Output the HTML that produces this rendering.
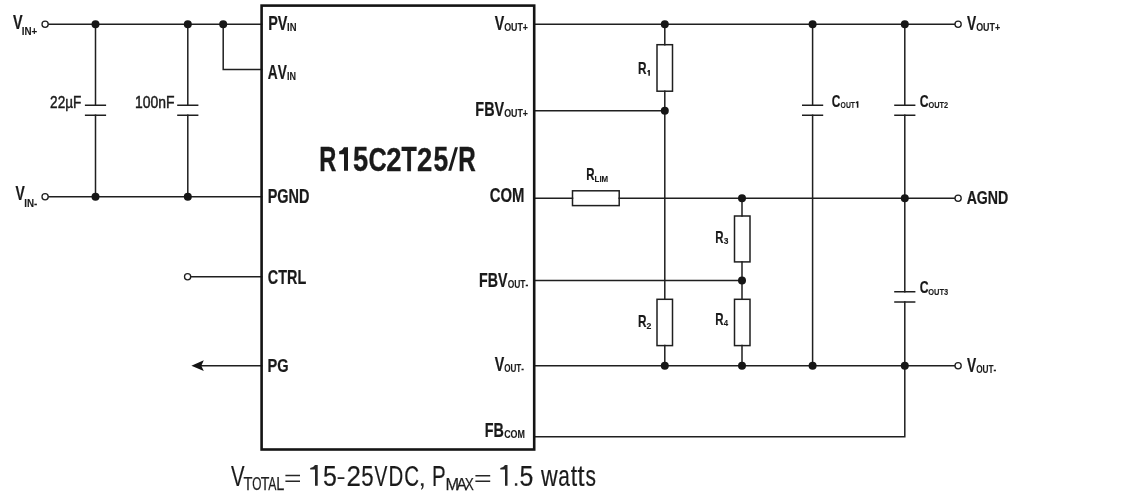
<!DOCTYPE html>
<html><head><meta charset="utf-8"><style>
html,body{margin:0;padding:0;background:#fff;}
svg{display:block;will-change:transform;}
text{font-family:"Liberation Sans",sans-serif;font-kerning:none;fill:#1a1a1a;}
</style></head><body>
<svg width="1144" height="496" viewBox="0 0 1144 496">
<rect width="1144" height="496" fill="#fff"/>
<path d="M648.36 70.0H649.9V75.7H648.36V71.82H647.1V71.14Q647.73 70.86 648.36 70.0Z M856.86 101.2H858.4V107.7H856.86V103.28H855.6V102.50Q856.23 102.17 856.86 101.2Z" fill="#1a1a1a"/>
<path d="M48.5 24.2L261.6 24.2 M48.5 196.8L261.6 196.8 M95.5 24.2L95.5 105.3 M95.5 115.3L95.5 196.8 M187.8 24.2L187.8 105.3 M187.8 115.3L187.8 196.8 M223.2 24.2L223.2 69.6 M223.2 69.6L261.6 69.6 M190.9 276.8L261.6 276.8 M198 365.7L261.6 365.7 M534.2 24.2L954.7 24.2 M534.2 110.8L664.8 110.8 M534.2 198.2L572.5 198.2 M619.2 198.2L954.7 198.2 M534.2 280.4L742.0 280.4 M534.2 365.7L954.7 365.7 M534.2 436.7L904.8 436.7 M664.8 24.2L664.8 44.7 M664.8 91.2L664.8 110.8 M664.8 110.8L664.8 299.3 M664.8 345.6L664.8 365.7 M742.0 198.2L742.0 216.0 M742.0 261.9L742.0 280.4 M742.0 280.4L742.0 299.3 M742.0 345.6L742.0 365.7 M812.6 24.2L812.6 105.3 M812.6 115.3L812.6 365.7 M904.8 24.2L904.8 105.3 M904.8 115.3L904.8 291.7 M904.8 302.0L904.8 436.7" stroke="#1f1f1f" stroke-width="1.5" stroke-linecap="square" fill="none"/>
<path d="M84.9 105.3L106.1 105.3 M84.9 115.3L106.1 115.3 M177.2 105.3L198.4 105.3 M177.2 115.3L198.4 115.3 M802.0 105.3L823.2 105.3 M802.0 115.3L823.2 115.3 M894.2 105.3L915.4 105.3 M894.2 115.3L915.4 115.3 M894.2 291.7L915.4 291.7 M894.2 302.0L915.4 302.0" stroke="#1f1f1f" stroke-width="1.5" fill="none"/>
<rect x="657.0" y="44.7" width="15.5" height="46.5" stroke="#1f1f1f" stroke-width="1.5" fill="none"/>
<rect x="657.0" y="299.3" width="15.5" height="46.3" stroke="#1f1f1f" stroke-width="1.5" fill="none"/>
<rect x="734.5" y="216.0" width="15.5" height="45.9" stroke="#1f1f1f" stroke-width="1.5" fill="none"/>
<rect x="734.5" y="299.3" width="15.5" height="46.3" stroke="#1f1f1f" stroke-width="1.5" fill="none"/>
<rect x="572.5" y="190.8" width="46.7" height="14.8" stroke="#1f1f1f" stroke-width="1.5" fill="none"/>
<rect x="261.6" y="5.6" width="272.6" height="443.9" stroke="#141414" stroke-width="2.6" fill="none"/>
<circle cx="95.5" cy="24.2" r="4.0" fill="#161616"/>
<circle cx="187.8" cy="24.2" r="4.0" fill="#161616"/>
<circle cx="223.2" cy="24.2" r="4.0" fill="#161616"/>
<circle cx="95.5" cy="196.8" r="4.0" fill="#161616"/>
<circle cx="187.8" cy="196.8" r="4.0" fill="#161616"/>
<circle cx="664.8" cy="24.2" r="4.0" fill="#161616"/>
<circle cx="812.6" cy="24.2" r="4.0" fill="#161616"/>
<circle cx="904.8" cy="24.2" r="4.0" fill="#161616"/>
<circle cx="664.8" cy="110.8" r="4.0" fill="#161616"/>
<circle cx="742.0" cy="198.2" r="4.0" fill="#161616"/>
<circle cx="904.8" cy="198.2" r="4.0" fill="#161616"/>
<circle cx="742.0" cy="280.4" r="4.0" fill="#161616"/>
<circle cx="664.8" cy="365.7" r="4.0" fill="#161616"/>
<circle cx="742.0" cy="365.7" r="4.0" fill="#161616"/>
<circle cx="812.6" cy="365.7" r="4.0" fill="#161616"/>
<circle cx="904.8" cy="365.7" r="4.0" fill="#161616"/>
<circle cx="45.1" cy="24.2" r="3.1" fill="#fff" stroke="#1f1f1f" stroke-width="1.3"/>
<circle cx="45.1" cy="196.8" r="3.1" fill="#fff" stroke="#1f1f1f" stroke-width="1.3"/>
<circle cx="187.6" cy="276.8" r="3.1" fill="#fff" stroke="#1f1f1f" stroke-width="1.3"/>
<circle cx="958.1" cy="24.2" r="3.1" fill="#fff" stroke="#1f1f1f" stroke-width="1.3"/>
<circle cx="958.1" cy="198.2" r="3.1" fill="#fff" stroke="#1f1f1f" stroke-width="1.3"/>
<circle cx="958.1" cy="365.7" r="3.1" fill="#fff" stroke="#1f1f1f" stroke-width="1.3"/>
<path d="M285.4 475.4H300M285.4 481.2H300M475.4 475.8H490.2M475.4 481.2H490.2" stroke="#262626" stroke-width="1.5" fill="none"/>
<path d="M315 465.1H317.7V485.7H315V469.6H310.2V467.9Q313.6 467.6 315 465.1Z M505 465.1H507.5V485.7H505V469.6H500.3V467.9Q503.6 467.6 505 465.1Z M337.6 477.3H344.4V478.9H337.6Z M514.9 483.3H517.3V485.7H514.9Z M420.9 483.3H423.6V486.2Q423.6 488.4 421.5 489.8L420.9 489.1Q422.1 488.1 422.1 485.7H420.9Z" fill="#262626"/>
<path d="M344 147.2L348 147.2L348 170.8L344 170.8L344 154.2L339.2 154.2L339.2 151.3Q342.6 150.6 344 147.2Z M448.2 170.8L451.2 170.8L458 147.2L455 147.2Z" fill="#1a1a1a"/>
<path d="M191.4 365.7L203.8 360.3L201.3 365.7L203.8 371Z" fill="#141414"/>
<text x="12.90" y="29.00" font-size="20.20" textLength="9.60" lengthAdjust="spacingAndGlyphs" font-weight="bold" stroke="#1a1a1a" stroke-width="0.22">V</text>
<text x="21.74" y="35.10" font-size="11.48" textLength="15.55" lengthAdjust="spacingAndGlyphs" font-weight="bold" stroke="#1a1a1a" stroke-width="0.13">IN+</text>
<text x="15.60" y="199.60" font-size="19.33" textLength="9.29" lengthAdjust="spacingAndGlyphs" font-weight="bold" stroke="#1a1a1a" stroke-width="0.21">V</text>
<text x="24.25" y="206.70" font-size="11.19" textLength="13.05" lengthAdjust="spacingAndGlyphs" font-weight="bold" stroke="#1a1a1a" stroke-width="0.12">IN-</text>
<text x="50.12" y="107.80" font-size="16.61" textLength="31.23" lengthAdjust="spacingAndGlyphs" stroke="#1a1a1a" stroke-width="0.45">22µF</text>
<text x="134.94" y="107.90" font-size="16.61" textLength="39.52" lengthAdjust="spacingAndGlyphs" stroke="#1a1a1a" stroke-width="0.45">100nF</text>
<text x="268.13" y="29.70" font-size="19.91" textLength="19.26" lengthAdjust="spacingAndGlyphs" font-weight="bold" stroke="#1a1a1a" stroke-width="0.22">PV</text>
<text x="287.07" y="30.60" font-size="10.90" textLength="9.47" lengthAdjust="spacingAndGlyphs" font-weight="bold" stroke="#1a1a1a" stroke-width="0.12">IN</text>
<text x="267.86" y="78.60" font-size="19.62" textLength="19.03" lengthAdjust="spacingAndGlyphs" font-weight="bold" stroke="#1a1a1a" stroke-width="0.22">AV</text>
<text x="286.90" y="79.70" font-size="11.19" textLength="9.01" lengthAdjust="spacingAndGlyphs" font-weight="bold" stroke="#1a1a1a" stroke-width="0.12">IN</text>
<text x="267.73" y="202.90" font-size="19.91" textLength="41.77" lengthAdjust="spacingAndGlyphs" font-weight="bold" stroke="#1a1a1a" stroke-width="0.22">PGND</text>
<text x="267.81" y="284.00" font-size="19.48" textLength="38.43" lengthAdjust="spacingAndGlyphs" font-weight="bold" stroke="#1a1a1a" stroke-width="0.21">CTRL</text>
<text x="267.42" y="371.60" font-size="18.62" textLength="21.08" lengthAdjust="spacingAndGlyphs" font-weight="bold" stroke="#1a1a1a" stroke-width="0.20">PG</text>
<text x="494.70" y="29.70" font-size="19.77" textLength="9.49" lengthAdjust="spacingAndGlyphs" font-weight="bold" stroke="#1a1a1a" stroke-width="0.22">V</text>
<text x="504.14" y="30.60" font-size="11.03" textLength="23.92" lengthAdjust="spacingAndGlyphs" font-weight="bold" stroke="#1a1a1a" stroke-width="0.12">OUT+</text>
<text x="475.33" y="116.00" font-size="20.20" textLength="28.86" lengthAdjust="spacingAndGlyphs" font-weight="bold" stroke="#1a1a1a" stroke-width="0.22">FBV</text>
<text x="504.14" y="116.60" font-size="10.31" textLength="23.92" lengthAdjust="spacingAndGlyphs" font-weight="bold" stroke="#1a1a1a" stroke-width="0.11">OUT+</text>
<text x="489.79" y="201.80" font-size="19.91" textLength="34.71" lengthAdjust="spacingAndGlyphs" font-weight="bold" stroke="#1a1a1a" stroke-width="0.22">COM</text>
<text x="478.95" y="286.80" font-size="19.91" textLength="28.45" lengthAdjust="spacingAndGlyphs" font-weight="bold" stroke="#1a1a1a" stroke-width="0.22">FBV</text>
<text x="507.65" y="287.70" font-size="10.17" textLength="20.58" lengthAdjust="spacingAndGlyphs" font-weight="bold" stroke="#1a1a1a" stroke-width="0.11">OUT-</text>
<text x="494.70" y="371.00" font-size="20.20" textLength="9.49" lengthAdjust="spacingAndGlyphs" font-weight="bold" stroke="#1a1a1a" stroke-width="0.22">V</text>
<text x="504.17" y="371.60" font-size="10.31" textLength="19.86" lengthAdjust="spacingAndGlyphs" font-weight="bold" stroke="#1a1a1a" stroke-width="0.11">OUT-</text>
<text x="484.84" y="436.90" font-size="20.06" textLength="19.11" lengthAdjust="spacingAndGlyphs" font-weight="bold" stroke="#1a1a1a" stroke-width="0.22">FB</text>
<text x="504.14" y="437.70" font-size="10.60" textLength="20.76" lengthAdjust="spacingAndGlyphs" font-weight="bold" stroke="#1a1a1a" stroke-width="0.12">COM</text>
<text x="319.22" y="170.80" font-size="34.59" textLength="17.07" lengthAdjust="spacingAndGlyphs" font-weight="bold" stroke="#1a1a1a" stroke-width="0.38">R</text>
<text x="352.96" y="170.80" font-size="34.59" textLength="15.20" lengthAdjust="spacingAndGlyphs" font-weight="bold" stroke="#1a1a1a" stroke-width="0.38">5</text>
<text x="368.56" y="170.80" font-size="34.09" textLength="18.23" lengthAdjust="spacingAndGlyphs" font-weight="bold" stroke="#1a1a1a" stroke-width="0.37">C</text>
<text x="386.25" y="170.80" font-size="34.09" textLength="15.25" lengthAdjust="spacingAndGlyphs" font-weight="bold" stroke="#1a1a1a" stroke-width="0.37">2</text>
<text x="401.62" y="170.80" font-size="34.59" textLength="15.25" lengthAdjust="spacingAndGlyphs" font-weight="bold" stroke="#1a1a1a" stroke-width="0.38">T</text>
<text x="417.05" y="170.80" font-size="34.09" textLength="15.25" lengthAdjust="spacingAndGlyphs" font-weight="bold" stroke="#1a1a1a" stroke-width="0.37">2</text>
<text x="433.38" y="170.80" font-size="34.59" textLength="14.75" lengthAdjust="spacingAndGlyphs" font-weight="bold" stroke="#1a1a1a" stroke-width="0.38">5</text>
<text x="458.28" y="170.80" font-size="34.59" textLength="17.52" lengthAdjust="spacingAndGlyphs" font-weight="bold" stroke="#1a1a1a" stroke-width="0.38">R</text>
<text x="966.91" y="29.60" font-size="19.62" textLength="9.19" lengthAdjust="spacingAndGlyphs" font-weight="bold" stroke="#1a1a1a" stroke-width="0.22">V</text>
<text x="976.13" y="30.80" font-size="10.45" textLength="24.03" lengthAdjust="spacingAndGlyphs" font-weight="bold" stroke="#1a1a1a" stroke-width="0.12">OUT+</text>
<text x="966.65" y="203.60" font-size="19.05" textLength="41.65" lengthAdjust="spacingAndGlyphs" font-weight="bold" stroke="#1a1a1a" stroke-width="0.21">AGND</text>
<text x="966.91" y="371.80" font-size="19.91" textLength="9.19" lengthAdjust="spacingAndGlyphs" font-weight="bold" stroke="#1a1a1a" stroke-width="0.22">V</text>
<text x="976.16" y="372.60" font-size="10.31" textLength="20.17" lengthAdjust="spacingAndGlyphs" font-weight="bold" stroke="#1a1a1a" stroke-width="0.11">OUT-</text>
<text x="638.11" y="73.70" font-size="17.01" textLength="8.53" lengthAdjust="spacingAndGlyphs" font-weight="bold" stroke="#1a1a1a" stroke-width="0.19">R</text>
<text x="586.13" y="179.80" font-size="16.86" textLength="8.31" lengthAdjust="spacingAndGlyphs" font-weight="bold" stroke="#1a1a1a" stroke-width="0.19">R</text>
<text x="594.57" y="181.80" font-size="9.74" textLength="13.66" lengthAdjust="spacingAndGlyphs" font-weight="bold" stroke="#1a1a1a" stroke-width="0.11">LIM</text>
<text x="715.13" y="242.70" font-size="16.72" textLength="8.31" lengthAdjust="spacingAndGlyphs" font-weight="bold" stroke="#1a1a1a" stroke-width="0.18">R</text>
<text x="723.71" y="243.90" font-size="9.88" textLength="4.70" lengthAdjust="spacingAndGlyphs" font-weight="bold" stroke="#1a1a1a" stroke-width="0.11">3</text>
<text x="638.11" y="326.60" font-size="17.01" textLength="8.53" lengthAdjust="spacingAndGlyphs" font-weight="bold" stroke="#1a1a1a" stroke-width="0.19">R</text>
<text x="646.60" y="328.60" font-size="9.45" textLength="4.85" lengthAdjust="spacingAndGlyphs" font-weight="bold" stroke="#1a1a1a" stroke-width="0.10">2</text>
<text x="715.13" y="324.60" font-size="16.72" textLength="8.31" lengthAdjust="spacingAndGlyphs" font-weight="bold" stroke="#1a1a1a" stroke-width="0.18">R</text>
<text x="723.78" y="325.70" font-size="9.59" textLength="4.36" lengthAdjust="spacingAndGlyphs" font-weight="bold" stroke="#1a1a1a" stroke-width="0.11">4</text>
<text x="831.71" y="107.10" font-size="17.19" textLength="8.62" lengthAdjust="spacingAndGlyphs" font-weight="bold" stroke="#1a1a1a" stroke-width="0.19">C</text>
<text x="840.62" y="107.70" font-size="9.74" textLength="14.45" lengthAdjust="spacingAndGlyphs" font-weight="bold" stroke="#1a1a1a" stroke-width="0.11">OUT</text>
<text x="919.70" y="107.10" font-size="17.19" textLength="8.84" lengthAdjust="spacingAndGlyphs" font-weight="bold" stroke="#1a1a1a" stroke-width="0.19">C</text>
<text x="928.60" y="108.00" font-size="9.88" textLength="19.60" lengthAdjust="spacingAndGlyphs" font-weight="bold" stroke="#1a1a1a" stroke-width="0.11">OUT2</text>
<text x="919.70" y="293.10" font-size="17.19" textLength="8.84" lengthAdjust="spacingAndGlyphs" font-weight="bold" stroke="#1a1a1a" stroke-width="0.19">C</text>
<text x="928.29" y="294.60" font-size="9.88" textLength="19.87" lengthAdjust="spacingAndGlyphs" font-weight="bold" stroke="#1a1a1a" stroke-width="0.11">OUT3</text>
<text x="323.10" y="485.70" font-size="29.94" textLength="13.84" lengthAdjust="spacingAndGlyphs" fill="#262626" stroke="#262626" stroke-width="0.2">5</text>
<text x="346.50" y="485.70" font-size="29.94" textLength="14.41" lengthAdjust="spacingAndGlyphs" fill="#262626" stroke="#262626" stroke-width="0.2">2</text>
<text x="361.31" y="485.70" font-size="29.94" textLength="12.32" lengthAdjust="spacingAndGlyphs" fill="#262626" stroke="#262626" stroke-width="0.2">5</text>
<text x="374.42" y="485.70" font-size="29.94" textLength="12.87" lengthAdjust="spacingAndGlyphs" fill="#262626" stroke="#262626" stroke-width="0.2">V</text>
<text x="388.52" y="485.70" font-size="29.94" textLength="14.75" lengthAdjust="spacingAndGlyphs" fill="#262626" stroke="#262626" stroke-width="0.2">D</text>
<text x="404.26" y="485.70" font-size="29.94" textLength="14.82" lengthAdjust="spacingAndGlyphs" fill="#262626" stroke="#262626" stroke-width="0.2">C</text>
<text x="519.60" y="485.70" font-size="29.94" textLength="13.84" lengthAdjust="spacingAndGlyphs" fill="#262626" stroke="#262626" stroke-width="0.2">5</text>
<text x="540.93" y="485.70" font-size="29.94" textLength="16.71" lengthAdjust="spacingAndGlyphs" fill="#262626" stroke="#262626" stroke-width="0.2">w</text>
<text x="558.22" y="485.70" font-size="29.94" textLength="11.58" lengthAdjust="spacingAndGlyphs" fill="#262626" stroke="#262626" stroke-width="0.2">a</text>
<text x="570.65" y="485.70" font-size="29.94" textLength="6.42" lengthAdjust="spacingAndGlyphs" fill="#262626" stroke="#262626" stroke-width="0.2">t</text>
<text x="577.61" y="485.70" font-size="29.94" textLength="7.07" lengthAdjust="spacingAndGlyphs" fill="#262626" stroke="#262626" stroke-width="0.2">t</text>
<text x="585.62" y="485.70" font-size="29.94" textLength="10.43" lengthAdjust="spacingAndGlyphs" fill="#262626" stroke="#262626" stroke-width="0.2">s</text>
<text x="231.01" y="485.70" font-size="29.94" textLength="13.58" lengthAdjust="spacingAndGlyphs" fill="#262626" stroke="#262626" stroke-width="0.2">V</text>
<text x="431.92" y="485.70" font-size="29.94" textLength="13.66" lengthAdjust="spacingAndGlyphs" fill="#262626" stroke="#262626" stroke-width="0.2">P</text>
<text x="243.47" y="489.60" font-size="17.44" textLength="8.97" lengthAdjust="spacingAndGlyphs" fill="#333333" stroke="#333333" stroke-width="0.25">T</text>
<text x="252.34" y="489.60" font-size="17.44" textLength="9.23" lengthAdjust="spacingAndGlyphs" fill="#333333" stroke="#333333" stroke-width="0.25">O</text>
<text x="260.68" y="489.60" font-size="17.44" textLength="8.64" lengthAdjust="spacingAndGlyphs" fill="#333333" stroke="#333333" stroke-width="0.25">T</text>
<text x="268.18" y="489.60" font-size="17.44" textLength="8.15" lengthAdjust="spacingAndGlyphs" fill="#333333" stroke="#333333" stroke-width="0.25">A</text>
<text x="276.31" y="489.60" font-size="17.44" textLength="8.07" lengthAdjust="spacingAndGlyphs" fill="#333333" stroke="#333333" stroke-width="0.25">L</text>
<text x="445.56" y="489.50" font-size="16.72" textLength="13.57" lengthAdjust="spacingAndGlyphs" fill="#333333" stroke="#333333" stroke-width="0.25">M</text>
<text x="456.57" y="489.50" font-size="16.72" textLength="10.36" lengthAdjust="spacingAndGlyphs" fill="#333333" stroke="#333333" stroke-width="0.25">A</text>
<text x="464.79" y="489.50" font-size="16.72" textLength="9.09" lengthAdjust="spacingAndGlyphs" fill="#333333" stroke="#333333" stroke-width="0.25">X</text>
</svg>
</body></html>
